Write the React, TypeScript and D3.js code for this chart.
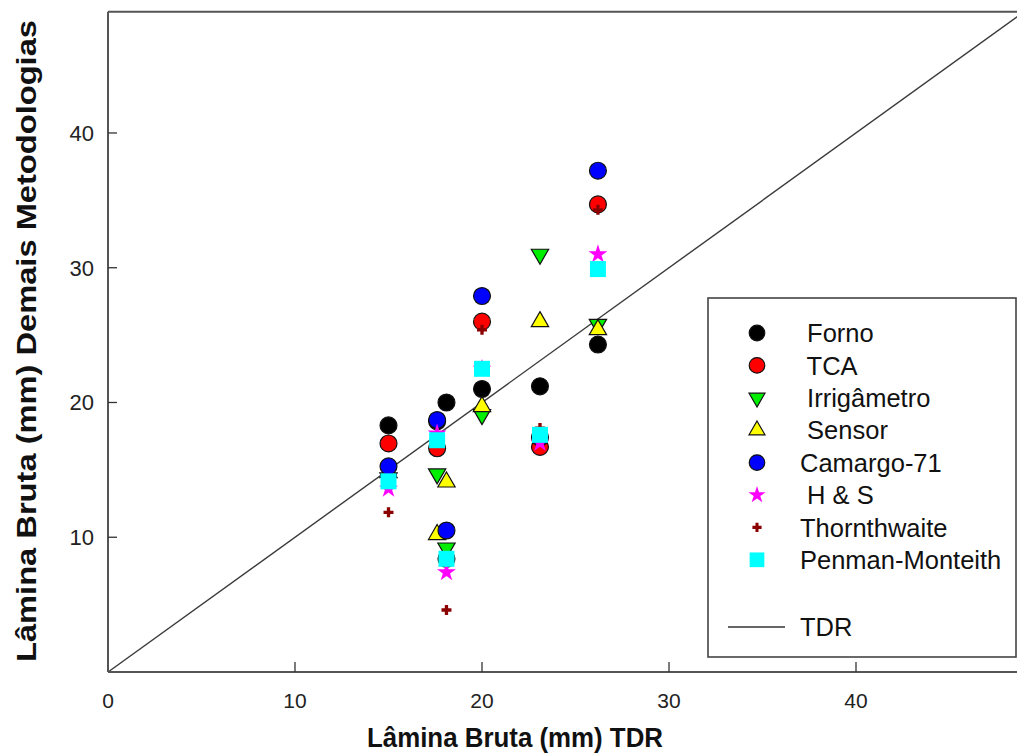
import React from "react";
import * as d3 from "d3";

const tdr = [15, 17.6, 18.1, 20, 23.1, 26.2];
const forno = [18.3, 18.6, 20.0, 21.0, 21.2, 24.3];
const tca = [16.96, 16.6, 8.4, 26.0, 16.7, 34.7];
const irrigametro = [14.4, 14.7, 9.2, 19.1, 31.0, 25.8];
const sensor = [14.8, 10.2, 14.1, 19.7, 26.0, 25.4];
const camargo = [15.26, 18.7, 10.5, 27.9, 17.4, 37.2];
const hs = [13.6, 17.7, 7.4, 22.5, 17.0, 31.0];
const thornthwaite = [11.85, 17.2, 4.6, 25.4, 18.1, 34.3];
const penman = [14.15, 17.2, 8.4, 22.5, 17.6, 29.9];

const xTicks = [0, 10, 20, 30, 40];
const yTicks = [10, 20, 30, 40];

const seriesNames = [" Forno", " TCA", " Irrigâmetro", " Sensor", "Camargo-71", " H & S", "Thornthwaite", "Penman-Monteith"];
const seriesValues = [forno, tca, irrigametro, sensor, camargo, hs, thornthwaite, penman];
const seriesKinds = ["circle", "circle", "down", "up", "circle", "star", "plus", "square"];
const seriesFill = ["#000000", "#ff0000", "#00ee00", "#ffff00", "#0000ff", "#ff00ff", "#8b0000", "#00ffff"];

function markerPath(kind: string, scale = 1): { d: string; rot: number; stroke: boolean } {
  const s = scale * scale;
  switch (kind) {
    case "circle":
      return { d: d3.symbol().type(d3.symbolCircle).size(225 * s)()!, rot: 0, stroke: true };
    case "up":
      return { d: d3.symbol().type(d3.symbolTriangle).size(130 * s)()!, rot: 0, stroke: true };
    case "down":
      return { d: d3.symbol().type(d3.symbolTriangle).size(130 * s)()!, rot: 180, stroke: true };
    case "star":
      return { d: d3.symbol().type(d3.symbolStar).size(110 * s)()!, rot: 0, stroke: false };
    case "plus":
      return { d: d3.symbol().type(d3.symbolCross).size(55 * s)()!, rot: 0, stroke: false };
    default:
      return { d: d3.symbol().type(d3.symbolSquare).size(256 * s)()!, rot: 0, stroke: false };
  }
}

export default function App() {
  const W = 1017, H = 756;
  const x = d3.scaleLinear().domain([0, 50]).range([108, 108 + 50 * 18.7]);
  const y = d3.scaleLinear().domain([0, 49]).range([672, 11.7]);
  const x0 = x(0), yTop = y(49), yBot = y(0);
  const diag = d3.line<number>().x((v) => x(v)).y((v) => y(v))([0, 50]);

  const legendY = (i: number) => 333 + i * 32.4;

  return (
    <div style={{ position: "absolute", left: 0, top: 0 }}>
      <svg width={W} height={H} style={{ display: "block", fontFamily: "Liberation Sans, Arial, sans-serif" }}>
        <defs>
          <clipPath id="plot">
            <rect x={x0} y={yTop} width={W - x0} height={yBot - yTop} />
          </clipPath>
        </defs>
        <rect x={0} y={0} width={W} height={H} fill="#fff" />
        {/* diagonal TDR line */}
        <path d={diag!} stroke="#3a3a3a" strokeWidth={1.4} fill="none" clipPath="url(#plot)" />
        {/* frame */}
        <line x1={x0} x2={W} y1={yTop} y2={yTop} stroke="#555" strokeWidth={2} />
        <line x1={x0} x2={W} y1={yBot} y2={yBot} stroke="#555" strokeWidth={2} />
        <line x1={x0} x2={x0} y1={yTop} y2={yBot} stroke="#555" strokeWidth={2} />
        {/* x ticks */}
        {xTicks.map((t) => (
          <g key={"xt" + t}>
            {t !== 0 && <line x1={x(t)} x2={x(t)} y1={yBot} y2={yBot - 10} stroke="#333" strokeWidth={1.3} />}
            <text x={x(t)} y={708} textAnchor="middle" fontSize={21} fill="#222">{t}</text>
          </g>
        ))}
        {/* y ticks */}
        {yTicks.map((t) => (
          <g key={"yt" + t}>
            <line x1={x0} x2={x0 + 9} y1={y(t)} y2={y(t)} stroke="#333" strokeWidth={1.3} />
            <text x={94} y={y(t)} dy="0.36em" textAnchor="end" fontSize={22} fill="#222">{t}</text>
          </g>
        ))}
        {/* axis titles */}
        <text x={515} y={747} textAnchor="middle" fontSize={27} fontWeight="bold" fill="#111"
          textLength={296} lengthAdjust="spacingAndGlyphs">Lâmina Bruta (mm) TDR</text>
        <text transform="translate(36,341) rotate(-90)" textAnchor="middle" fontSize={27} fontWeight="bold" fill="#111"
          textLength={642} lengthAdjust="spacingAndGlyphs">Lâmina Bruta (mm) Demais Metodologias</text>
        {/* data */}
        <g clipPath="url(#plot)">
          {seriesValues.map((vals, si) => {
            const m = markerPath(seriesKinds[si]);
            return (
              <g key={"s" + si}>
                {vals.map((v, i) => (
                  <path key={i} d={m.d}
                    transform={`translate(${x(tdr[i])},${y(v)}) rotate(${m.rot})`}
                    fill={seriesFill[si]} stroke={m.stroke ? "#111" : "none"} strokeWidth={1.2} />
                ))}
              </g>
            );
          })}
        </g>
        {/* legend */}
        <rect x={708} y={298} width={308} height={359} fill="#fff" stroke="#444" strokeWidth={1.6} />
        {seriesNames.map((n, i) => {
          const m = markerPath(seriesKinds[i], 0.92);
          return (
            <g key={"l" + i}>
              <path d={m.d} transform={`translate(757,${legendY(i)}) rotate(${m.rot})`}
                fill={seriesFill[i]} stroke={m.stroke ? "#111" : "none"} strokeWidth={1.2} />
              <text x={800} y={legendY(i)} dy="0.36em" fontSize={25.5} fill="#111" style={{ whiteSpace: "pre" }}>{n}</text>
            </g>
          );
        })}
        <line x1={728} x2={785} y1={627} y2={627} stroke="#333" strokeWidth={1.4} />
        <text x={800} y={627} dy="0.36em" fontSize={25.5} fill="#111">TDR</text>
      </svg>
    </div>
  );
}
